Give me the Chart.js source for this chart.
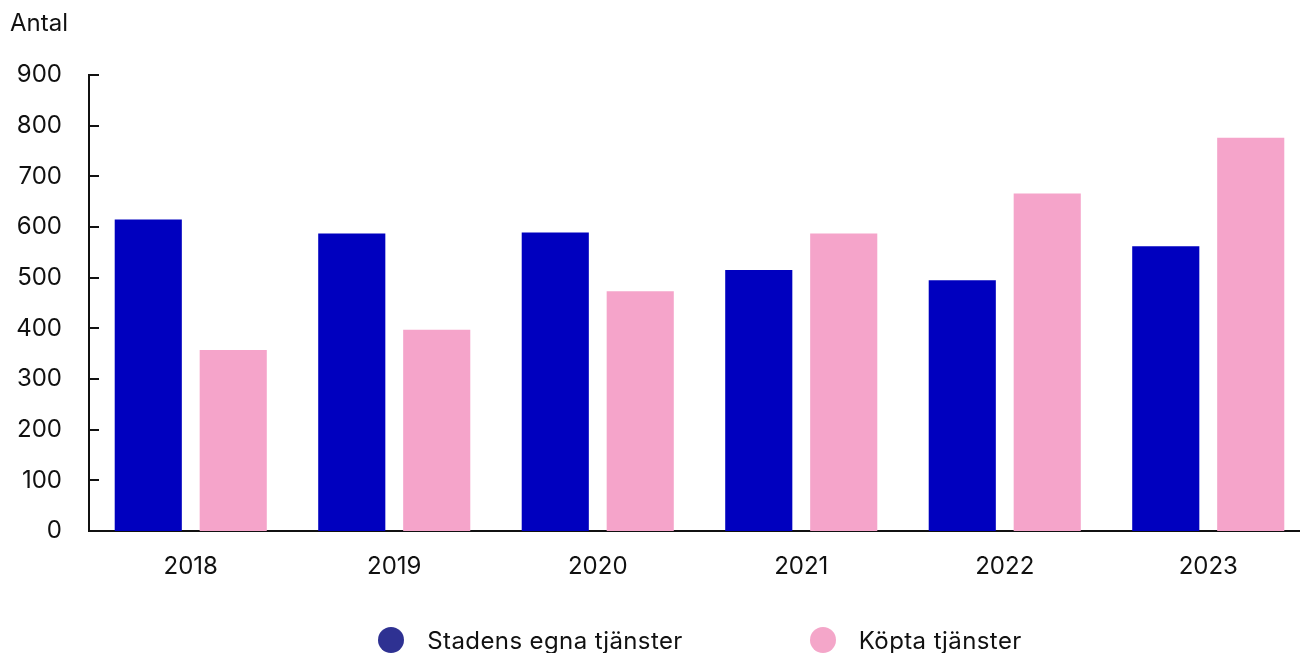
<!DOCTYPE html>
<html>
<head>
<meta charset="utf-8">
<script src="https://cdn.jsdelivr.net/npm/chart.js@4/dist/chart.umd.min.js"></script>
<style>
  html, body { margin: 0; padding: 0; background: #fff; overflow: hidden; }
  #wrap { position: relative; width: 1400px; height: 653px; }
  #legend {
    position: absolute; left: 0; width: 1400px; top: 627px; height: 26px;
    display: flex; justify-content: center; align-items: center; gap: 127px;
    font-family: Inter, "Noto Sans", sans-serif; font-size: 24px; letter-spacing: 0.4px; color: #111;
  }
  .item { display: flex; align-items: center; }
  .dot { width: 26px; height: 26px; border-radius: 50%; margin-right: 23px; }
</style>
</head>
<body>
<div id="wrap">
  <canvas id="c"></canvas>
  <div id="legend"></div>
</div>
<script>
const categories = ['2018', '2019', '2020', '2021', '2022', '2023'];
const egnaValues = [615, 587, 589, 515, 495, 562];
const koptaValues = [357, 397, 473, 587, 666, 776];
const seriesNames = ['Stadens egna tjänster', 'Köpta tjänster'];
const yAxisTitle = 'Antal';
const yMin = 0, yMax = 900, yStep = 100;

const barColors = ['#0000BF', '#F5A4CA'];
const legendColors = ['#2E3192', '#F4A6C9'];
const FONT = 'Inter, "Noto Sans", sans-serif';

const innerTicks = {
  id: 'innerTicks',
  afterDraw(chart) {
    const y = chart.scales.y, ctx = chart.ctx, left = chart.chartArea.left;
    ctx.save();
    ctx.strokeStyle = '#111';
    ctx.lineWidth = 2;
    y.ticks.forEach(t => {
      const py = Math.round(y.getPixelForValue(t.value));
      ctx.beginPath();
      ctx.moveTo(left, py);
      ctx.lineTo(left + 10, py);
      ctx.stroke();
    });
    ctx.restore();
  }
};

const chart = new Chart(document.getElementById('c'), {
  type: 'bar',
  data: {
    labels: categories,
    datasets: [
      { label: seriesNames[0], data: egnaValues, backgroundColor: barColors[0],
        categoryPercentage: 0.835, barPercentage: 0.79 },
      { label: seriesNames[1], data: koptaValues, backgroundColor: barColors[1],
        categoryPercentage: 0.835, barPercentage: 0.79 }
    ]
  },
  options: {
    responsive: true,
    maintainAspectRatio: false,
    animation: false,
    layout: { padding: { left: 10, right: 90, top: 0, bottom: 0 } },
    plugins: {
      legend: { display: false },
      tooltip: { enabled: false },
      title: {
        display: true, text: yAxisTitle, align: 'start', color: '#111',
        font: { family: FONT, size: 24, weight: 'normal' },
        padding: { top: 9, bottom: 37.2 }
      }
    },
    scales: {
      x: {
        grid: { display: false, drawTicks: false },
        border: { display: true, color: '#111', width: 2 },
        ticks: { color: '#111', padding: 21, font: { family: FONT, size: 24 } },
        afterFit(s) { s.height = 122; }
      },
      y: {
        min: yMin, max: yMax,
        grid: { display: false, drawTicks: false },
        border: { display: true, color: '#111', width: 2 },
        ticks: { stepSize: yStep, color: '#111', padding: 27, font: { family: FONT, size: 24 } },
        afterFit(s) { s.width = 79; }
      }
    }
  },
  plugins: [innerTicks]
});

const legendEl = document.getElementById('legend');
seriesNames.forEach((name, i) => {
  const item = document.createElement('div');
  item.className = 'item';
  const dot = document.createElement('span');
  dot.className = 'dot';
  dot.style.background = legendColors[i];
  const txt = document.createElement('span');
  txt.textContent = name;
  item.appendChild(dot);
  item.appendChild(txt);
  legendEl.appendChild(item);
});
</script>
</body>
</html>
